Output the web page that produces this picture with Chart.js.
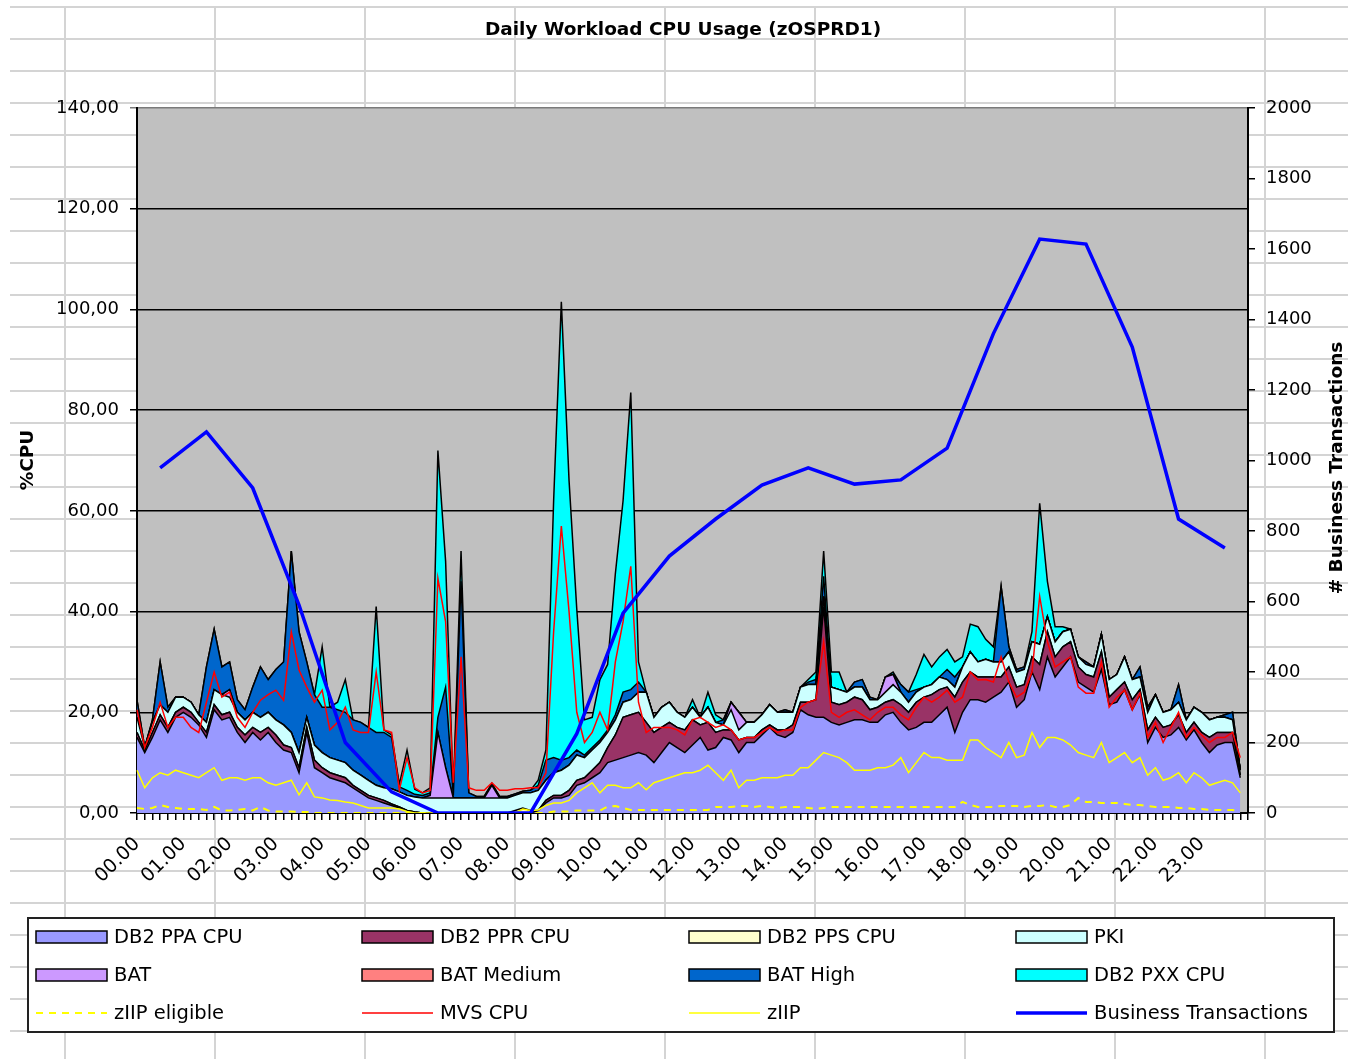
<!DOCTYPE html>
<html>
<head>
<meta charset="utf-8">
<title>Daily Workload CPU Usage (zOSPRD1)</title>
<script src="https://cdn.jsdelivr.net/npm/chart.js@4.4.1/dist/chart.umd.min.js"></script>
<style>
  html, body { margin: 0; padding: 0; background: #fff; }
  canvas { display: block; }
</style>
</head>
<body>
<canvas id="cpu-chart" width="1348" height="1059"></canvas>
<script>
// start: Data (one value per 10 minutes, 144 slots)
const hourLabels = ['00.00', '01.00', '02.00', '03.00', '04.00', '05.00', '06.00', '07.00',
    '08.00', '09.00', '10.00', '11.00', '12.00', '13.00', '14.00', '15.00',
    '16.00', '17.00', '18.00', '19.00', '20.00', '21.00', '22.00', '23.00'];
const cpuTicks = [0, 20, 40, 60, 80, 100, 120, 140];
const trxTicks = [0, 200, 400, 600, 800, 1000, 1200, 1400, 1600, 1800, 2000];

const db2Ppa = [
    15, 12, 15, 18.5, 16, 19, 20, 19, 17.5, 15, 20.5, 18.5,
    19, 16, 14, 16, 14.5, 16, 14, 12.5, 12, 8, 16, 9,
    8, 7, 6.5, 6, 5, 4, 3, 2.5, 2, 1.5, 1, 0.5,
    0.2, 0, 0, 0, 0, 0, 0, 0, 0, 0, 0, 0,
    0, 0, 0, 0, 0.5, 2, 3, 3, 3.5, 5.5, 6, 7,
    8, 10, 10.5, 11, 11.5, 12, 11.5, 10, 12, 14, 13, 12,
    13.5, 15, 12.5, 13, 15, 14.5, 12, 14, 14, 15.5, 17, 15.5,
    15, 16, 20.5, 19.5, 19, 19, 18, 17.5, 18, 18.5, 18.5, 18,
    18, 19.5, 20, 18, 16.5, 17, 18, 18, 19.5, 21, 16, 20,
    22.5, 22.5, 22, 23, 24, 26, 21, 22.5, 28, 24.5, 31, 27,
    29, 31, 26, 25, 24, 28.5, 21.5, 22, 24.5, 20.5, 23.5, 14,
    17, 15, 15.5, 17, 14.5, 16.5, 14, 12, 13.5, 14, 14, 7
];
const db2Ppr = [
    1, 0.5, 1, 1, 1, 1, 1, 1, 0.5, 1, 1, 1,
    1, 1, 1.5, 1, 1.5, 1, 1.5, 1, 1, 1, 1, 1.5,
    1, 1, 1, 1, 0.5, 0.5, 0.5, 0.5, 0.5, 0.3, 0.2, 0,
    0, 0, 0, 0, 0, 0, 0, 0, 0, 0, 0, 0,
    0, 0, 0, 0, 0, 0.5, 0.5, 0.5, 1, 1, 1, 1.5,
    2, 3, 5, 8, 8, 8, 6.5, 6, 5, 4, 4, 4.5,
    5, 2.5, 5.5, 3, 1.5, 2, 2.5, 1, 1, 1, 0.5, 1,
    1.5, 1.5, 1.5, 2.5, 3.5, 22, 4, 4, 4, 4.5, 4, 2.5,
    3, 2.5, 2.5, 3.5, 3.5, 5, 5, 5.5, 5, 4, 7, 6,
    5.5, 4.5, 5, 4, 3, 3, 4, 3, 3, 5, 5, 4,
    4, 3, 3, 2.5, 3, 3.5, 1.5, 2.5, 1.5, 2, 1, 2.5,
    2, 2, 2, 2.5, 1.5, 1.5, 2, 3, 2.5, 2, 2, 0.5
];
const db2Pps = [
    0, 0, 0, 0, 0, 0, 0, 0, 0, 0, 0, 0,
    0, 0, 0, 0, 0, 0, 0, 0, 0, 0, 0, 0,
    0, 0, 0, 0, 0, 0, 0, 0, 0, 0, 0, 0,
    0, 0, 0, 0, 0, 0, 0, 0, 0, 0, 0, 0,
    0, 0.5, 1, 0.5, 0, 0, 0, 0, 0, 0, 0, 0,
    0, 0, 0, 0, 0, 0, 0, 0, 0, 0, 0, 0,
    0, 0, 0, 0, 0, 0, 0, 0, 0, 0, 0, 0,
    0, 0, 0, 0, 0, 0, 0, 0, 0, 0, 0, 0,
    0, 0, 0, 0, 0, 0, 0, 0, 0, 0, 0, 0,
    0, 0, 0, 0, 0, 0, 0, 0, 0, 0, 0, 0,
    0, 0, 0, 0, 0, 0, 0, 0, 0, 0, 0, 0,
    0, 0, 0, 0, 0, 0, 0, 0, 0, 0, 0, 0
];
const pki = [
    3, 0.5, 2, 2, 3, 3, 2, 2, 1.5, 2, 3, 4,
    3, 3, 3, 3, 3, 3, 3, 4, 3, 3, 2, 3,
    3, 3, 3, 3, 3, 3, 3, 2.5, 2.5, 3, 3, 3,
    3, 3, 3, 3, 3, 3, 3, 3, 3, 3, 3, 3,
    3, 3, 3, 3.5, 4, 4, 4.5, 5, 5, 5, 4, 4,
    4, 3, 3, 3, 3, 4, 6, 3, 4, 4, 3, 2.5,
    2.5, 1.5, 3, 2, 1, 4, 2, 3, 3, 3, 4, 3.5,
    3.5, 2.5, 3, 3.5, 3, 2, 3, 3, 2, 2, 2.5, 2,
    1.5, 2, 3, 2.5, 2, 2, 2, 2, 2.5, 1.5, 2, 3,
    4, 3, 3.5, 3, 3, 3, 3, 3, 3, 4, 3, 3,
    3, 2.5, 2, 2, 2, 3.5, 3.5, 3, 5, 4, 2.5, 3.5,
    4.5, 3, 3, 2.5, 2.5, 3, 4, 3.5, 3, 3, 2.5, 1
];
const bat = [
    0, 0, 0, 0, 0, 0, 0, 0, 0, 0, 0, 0,
    1.5, 0, 0, 0, 0, 0, 0, 0, 0, 0, 0, 0,
    0, 0, 0, 0, 0, 0, 0, 0, 0, 0, 0, 0,
    0, 0, 0.5, 13, 6, 0, 0, 0, 0, 0, 2.5, 0,
    0, 0, 0, 0, 0, 0, 0, 0, 0, 0, 0, 0,
    0, 0, 0, 0, 0, 0, 0, 0, 0, 0, 0, 0,
    0, 0, 0, 0, 0, 1.5, 3.5, 0, 0, 0, 0, 0,
    0, 0, 0, 0, 0, 0, 0, 0, 0, 0, 0, 0,
    0, 3, 2, 0, 0, 0, 0, 0, 0, 0, 0, 0,
    0, 0, 0, 0, 0, 0, 0, 0, 0, 0, 0, 0,
    0, 0, 0, 0, 0, 0, 0, 0, 0, 0, 0, 0,
    0, 0, 0, 0, 0, 0, 0, 0, 0, 0, 0, 0
];
const batMedium = [
    0, 0, 0, 0, 0, 0, 0, 0, 0, 0, 0, 0,
    0, 0, 0, 0, 0, 0, 0, 0, 0, 0, 0, 0,
    0, 0, 0, 0, 0, 0, 0, 0, 0, 0, 0, 0,
    0, 0, 0, 0, 0, 0, 0, 0, 0, 0, 0, 0,
    0, 0, 0, 0, 0, 0, 0, 0, 0, 0, 0, 0,
    0, 0, 0, 0, 0, 0, 0, 0, 0, 0, 0, 0,
    0, 0, 0, 0, 0, 0, 0, 0, 0, 0, 0, 0,
    0, 0, 0, 0, 0, 0, 0, 0, 0, 0, 0, 0,
    0, 0, 0, 0, 0, 0, 0, 0, 0, 0, 0, 0,
    0, 0, 0, 0, 0, 0, 0, 0, 0, 0, 0, 0,
    0, 0, 0, 0, 0, 0, 0, 0, 0, 0, 0, 0,
    0, 0, 0, 0, 0, 0, 0, 0, 0, 0, 0, 0
];
const batHigh = [
    3.4, 0, 0.5, 8.5, 1, 0, 0, 0, 0, 11, 12, 5.5,
    5.5, 2.5, 2, 5, 10, 6.5, 10, 12.5, 36, 24, 11, 10,
    9, 10, 10, 10, 10, 10.5, 10.5, 10.5, 11, 10.2, 1, 1,
    0.5, 0.5, 0.5, 3, 16, 0.5, 43, 1, 0.3, 0.3, 0.3, 0.3,
    0.3, 0.3, 0.3, 0.5, 1, 4, 3, 2, 1.5, 1, 0.5, 0.5,
    0.5, 0.5, 1, 2, 2, 2, 0, 0, 0, 0, 0, 0,
    0, 0, 0, 0, 1, 0, 0, 0, 0, 0, 0, 0,
    0.5, 0, 0, 0.5, 1, 4, 0, 0, 0, 1, 1.5, 0.5,
    0, 0, 0, 1.5, 2, 0.5, 0, 0, 0, 2, 2, 0,
    0, 0, 0, 0, 15, 1, 0.5, 0.5, 0, 0, 0, 0,
    0, 0, 0, 0.5, 0, 0, 0, 0, 0, 0, 2, 1,
    0, 0, 0, 3.5, 0, 0, 0, 0, 0, 0.5, 1.5, 0
];
const db2Pxx = [
    0, 0, 0, 0, 0, 0, 0, 0, 0, 0, 0, 0,
    0, 0, 0, 0, 0, 0, 0, 0, 0, 0, 0, 0,
    12, 0, 1.5, 6.5, 0, 0, 0, 25, 0.5, 0.5, 0.5, 8,
    1, 0.5, 1, 53, 25, 0.5, 6, 0, 0, 0, 0, 0,
    0, 0, 0, 0, 1, 2, 51, 91, 55, 28, 7, 6,
    12, 13, 28, 38, 59, 4, 0, 0, 0, 0, 0, 0,
    1.5, 0, 3, 1.5, 0, 0, 0, 0, 0, 0, 0, 0,
    0, 0, 0, 0.5, 1.5, 5, 3, 3.5, 0, 0, 0, 0,
    0, 0, 0.5, 0, 0, 3, 6.5, 3.5, 4, 4, 3, 2,
    5.5, 7, 4, 3, 0, 0, 0, 0, 2, 28, 7, 3,
    1, 0, 0, 0, 0, 0, 0, 0, 0, 0, 0, 0,
    0, 0, 0, 0, 0, 0, 0, 0, 0, 0, 0, 0
];
const ziipEligible = [
    1, 0.8, 1, 1.6, 1.2, 1, 0.8, 0.8, 0.8, 0.6, 1.2, 0.5,
    0.5, 0.6, 0.8, 0.5, 1.2, 0.5, 0.3, 0.3, 0.3, 0.2, 0.2, 0,
    0, 0, 0, 0, 0, 0, 0, 0, 0, 0, 0, 0,
    0, 0, 0, 0, 0, 0, 0, 0, 0, 0, 0, 0,
    0, 0, 0, 0, 0, 0, 0.3, 0.3, 0.3, 0.5, 0.5, 0.5,
    0.5, 1.3, 1.4, 1, 0.6, 0.6, 0.6, 0.6, 0.6, 0.6, 0.6, 0.6,
    0.6, 0.6, 0.6, 1.2, 1.2, 1.2, 1.4, 1.4, 1.2, 1.4, 1.2, 1,
    1.2, 1.2, 1.2, 1, 0.8, 1, 1.2, 1.2, 1.2, 1.2, 1.2, 1.2,
    1.2, 1.2, 1.2, 1.2, 1.2, 1.2, 1.2, 1.2, 1.2, 1.2, 1.2, 2.2,
    1.6, 1.2, 1.2, 1.2, 1.4, 1.4, 1.4, 1.2, 1.4, 1.4, 1.6, 1.2,
    1.2, 1.6, 3, 2.2, 2.2, 2, 2, 2, 1.8, 1.6, 1.6, 1.4,
    1.2, 1.2, 1.2, 1, 1, 0.8, 0.8, 0.6, 0.6, 0.6, 0.6, 0.4
];
const mvsCpu = [
    20.5, 13, 17, 22, 17, 19, 19, 17, 16, 22, 28, 23,
    24, 19, 17, 20, 22.4, 23.5, 24.4, 22.4, 36, 28.4, 25, 22,
    24.4, 16.5, 18, 21, 16.5, 16, 16, 28, 16.5, 16, 4.6, 11,
    5, 4, 4.5, 46.6, 38, 6, 31, 5, 4.5, 4.5, 6, 4.5,
    4.5, 4.8, 4.8, 5, 5, 8, 36, 57, 40, 20, 14, 16,
    20, 16.5, 30, 38, 49, 22, 16, 17, 17, 17, 16.5, 15.5,
    18.5, 19, 18, 17, 17.5, 16.5, 14.5, 15, 15, 16, 17, 16,
    16.5, 16.5, 21, 22, 22.5, 34, 20, 19, 20, 20.5, 19.5, 18.5,
    20, 21, 21, 19.5, 18.5, 21, 23, 22, 23, 24.4, 22, 23,
    28, 26.4, 26.5, 26, 31, 26, 23, 24, 28, 43, 34, 29,
    30, 31, 25, 23.8, 23.8, 30, 21, 23, 24.4, 20.5, 23.8, 15,
    18, 14, 17, 20, 15, 17, 15.5, 14, 15, 15, 16, 11
];
const ziip = [
    8.5, 5, 7, 8, 7.5, 8.5, 8, 7.5, 7, 8, 9, 6.5,
    7, 7, 6.5, 7, 7, 6, 5.5, 6, 6.5, 3.6, 6, 3.2,
    3, 2.6, 2.5, 2.2, 2, 1.5, 1, 1, 1, 1, 0.8, 0.3,
    0, 0, 0, 0, 0, 0, 0, 0, 0, 0, 0, 0,
    0, 0, 0.8, 0.5, 0.6, 1.5, 2, 2, 2.5, 4, 5, 6,
    4, 5.5, 5.5, 5, 5, 6, 4.6, 6, 6.5, 7, 7.5, 8,
    8, 8.5, 9.5, 8, 6.5, 8.5, 5, 6.5, 6.5, 7, 7, 7,
    7.5, 7.5, 9, 9, 10.5, 12, 11.5, 11, 10, 8.5, 8.5, 8.5,
    9, 9, 9.5, 11, 8, 10, 12, 11, 11, 10.5, 10.5, 10.5,
    14.5, 14.5, 13, 12, 11, 14, 11, 11.5, 16, 13, 15, 15,
    14.5, 13.5, 12, 11.5, 11, 14, 10, 11, 12, 10, 11, 7.5,
    9, 6.5, 7, 8, 6, 8, 7, 5.5, 6, 6.5, 6, 4
];
// business transactions: one value per hour, plotted at half past
const businessTrx = [979, 1081, 922, 590, 200, 60, 0, 0, 0, 225, 567, 729,
    834, 930, 979, 933, 945, 1035, 1360, 1628, 1614, 1322, 834, 752];
// end: Data


// start: Chart
const slots = 144
const labels = []
for (let i = 0; i <= slots; i++) {
    labels.push(i % 6 === 0 && i < slots ? hourLabels[i / 6] : '')
}
const trxSeries = []
for (let i = 0; i < slots; i++) {
    trxSeries.push(i % 6 === 3 ? businessTrx[(i - 3) / 6] : null)
}

function area(label, data, color, first) {
    return {
        label: label,
        data: data,
        backgroundColor: color,
        borderColor: '#000',
        borderWidth: 1.5,
        fill: first ? 'origin' : '-1',
        pointRadius: 0,
        tension: 0,
        stack: 'cpu',
        yAxisID: 'y',
        order: 10,
        kind: 'area'
    }
}
function line(label, data, color, width, stack, extra) {
    return Object.assign({
        label: label,
        data: data,
        borderColor: color,
        backgroundColor: color,
        borderWidth: width,
        fill: false,
        pointRadius: 0,
        tension: 0,
        stack: stack,
        yAxisID: 'y',
        order: 0,
        kind: 'line'
    }, extra || {})
}

const datasets = [
    area('DB2 PPA CPU', db2Ppa, '#9999ff', true),
    area('DB2 PPR CPU', db2Ppr, '#993366'),
    area('DB2 PPS CPU', db2Pps, '#ffffcc'),
    area('PKI', pki, '#ccffff'),
    area('BAT', bat, '#cc99ff'),
    area('BAT Medium', batMedium, '#ff8080'),
    area('BAT High', batHigh, '#0066cc'),
    area('DB2 PXX CPU', db2Pxx, '#00ffff'),
    line('zIIP eligible', ziipEligible, '#ffff00', 2, 'zie', { borderDash: [7, 6] }),
    line('MVS CPU', mvsCpu, '#ff0000', 1.5, 'mvs'),
    line('zIIP', ziip, '#ffff00', 1.5, 'ziip'),
    line('Business Transactions', trxSeries, '#0000ff', 3.5, 'bt', { yAxisID: 'y2', spanGaps: true, order: -1 })
]

// sheet grid behind, grey plot area, titles and legend box
const excelLook = {
    id: 'excelLook',
    beforeDraw(chart) {
        const ctx = chart.ctx
        const a = chart.chartArea
        ctx.save()
        ctx.fillStyle = '#fff'
        ctx.fillRect(0, 0, chart.width, chart.height)
        ctx.strokeStyle = '#d4d4d4'
        ctx.lineWidth = 2
        ctx.beginPath()
        for (let x = 65; x < chart.width; x += 150) {
            ctx.moveTo(x, 7)
            ctx.lineTo(x, chart.height)
        }
        for (let y = 7; y < chart.height; y += 32) {
            ctx.moveTo(10, y)
            ctx.lineTo(chart.width, y)
        }
        ctx.stroke()
        ctx.fillStyle = '#c0c0c0'
        ctx.fillRect(a.left, a.top, a.right - a.left, a.bottom - a.top)
        ctx.restore()
    },
    afterDraw(chart) {
        const ctx = chart.ctx
        ctx.save()
        ctx.fillStyle = '#000'
        ctx.textBaseline = 'middle'
        ctx.textAlign = 'center'
        ctx.font = 'bold 18.5px "DejaVu Sans"'
        ctx.fillText('Daily Workload CPU Usage (zOSPRD1)', 683, 30)

        ctx.save()
        ctx.translate(28, 460)
        ctx.rotate(-Math.PI / 2)
        ctx.fillText('%CPU', 0, 0)
        ctx.restore()
        ctx.save()
        ctx.translate(1337, 468)
        ctx.rotate(-Math.PI / 2)
        ctx.fillText('# Business Transactions', 0, 0)
        ctx.restore()

        // legend
        ctx.fillStyle = '#fff'
        ctx.fillRect(28, 918, 1306, 114)
        ctx.strokeStyle = '#222'
        ctx.lineWidth = 2
        ctx.strokeRect(28, 918, 1306, 114)
        const colX = [36, 362, 689, 1016]
        const rowY = [937, 975, 1013]
        ctx.font = '19.5px "DejaVu Sans"'
        ctx.textAlign = 'left'
        chart.data.datasets.forEach(function (ds, i) {
            const x = colX[i % 4]
            const y = rowY[Math.floor(i / 4)]
            if (ds.kind === 'area') {
                ctx.fillStyle = ds.backgroundColor
                ctx.fillRect(x, y - 6, 71, 12)
                ctx.strokeStyle = '#000'
                ctx.lineWidth = 1.5
                ctx.strokeRect(x, y - 6, 71, 12)
            } else {
                ctx.strokeStyle = ds.borderColor
                ctx.lineWidth = ds.borderWidth
                ctx.setLineDash(ds.borderDash || [])
                ctx.beginPath()
                ctx.moveTo(x, y)
                ctx.lineTo(x + 71, y)
                ctx.stroke()
                ctx.setLineDash([])
            }
            ctx.fillStyle = '#000'
            ctx.fillText(ds.label, x + 78, y + 1)
        })
        ctx.restore()
    }
}

Chart.defaults.font.family = '"DejaVu Sans", sans-serif'
Chart.defaults.font.size = 18
Chart.defaults.color = '#000'

new Chart(document.getElementById('cpu-chart'), {
    type: 'line',
    data: {
        labels: labels,
        datasets: datasets
    },
    options: {
        responsive: false,
        animation: false,
        events: [],
        layout: {
            padding: { top: 108, left: 0, right: 0, bottom: 0 }
        },
        plugins: {
            legend: { display: false },
            title: { display: false },
            tooltip: { enabled: false }
        },
        scales: {
            x: {
                offset: false,
                grid: { drawOnChartArea: false, color: '#000', lineWidth: 1.5, tickLength: 7 },
                border: { color: '#000', width: 2 },
                ticks: {
                    autoSkip: false,
                    minRotation: 45,
                    maxRotation: 45,
                    padding: 13,
                    font: { size: 19 }
                },
                afterFit(scale) { scale.height = 246 }
            },
            y: {
                position: 'left',
                stacked: true,
                min: 0,
                max: 140,
                afterBuildTicks(scale) { scale.ticks = cpuTicks.map(v => ({ value: v })) },
                grid: {
                    color: ctx => ctx.tick && ctx.tick.value === 140 ? '#7a7a7a' : '#000',
                    lineWidth: 1.5,
                    tickLength: 7
                },
                border: { color: '#000', width: 2 },
                ticks: {
                    padding: 11,
                    callback: v => v.toFixed(2).replace('.', ',')
                },
                afterFit(scale) { scale.width = 137 }
            },
            y2: {
                position: 'right',
                min: 0,
                max: 2000,
                afterBuildTicks(scale) { scale.ticks = trxTicks.map(v => ({ value: v })) },
                grid: { drawOnChartArea: false, color: '#000', lineWidth: 1.5, tickLength: 7 },
                border: { color: '#000', width: 2 },
                ticks: {
                    padding: 11,
                    callback: v => String(v)
                },
                afterFit(scale) { scale.width = 100 }
            }
        }
    },
    plugins: [excelLook]
});
// end: Chart
</script>
</body>
</html>
